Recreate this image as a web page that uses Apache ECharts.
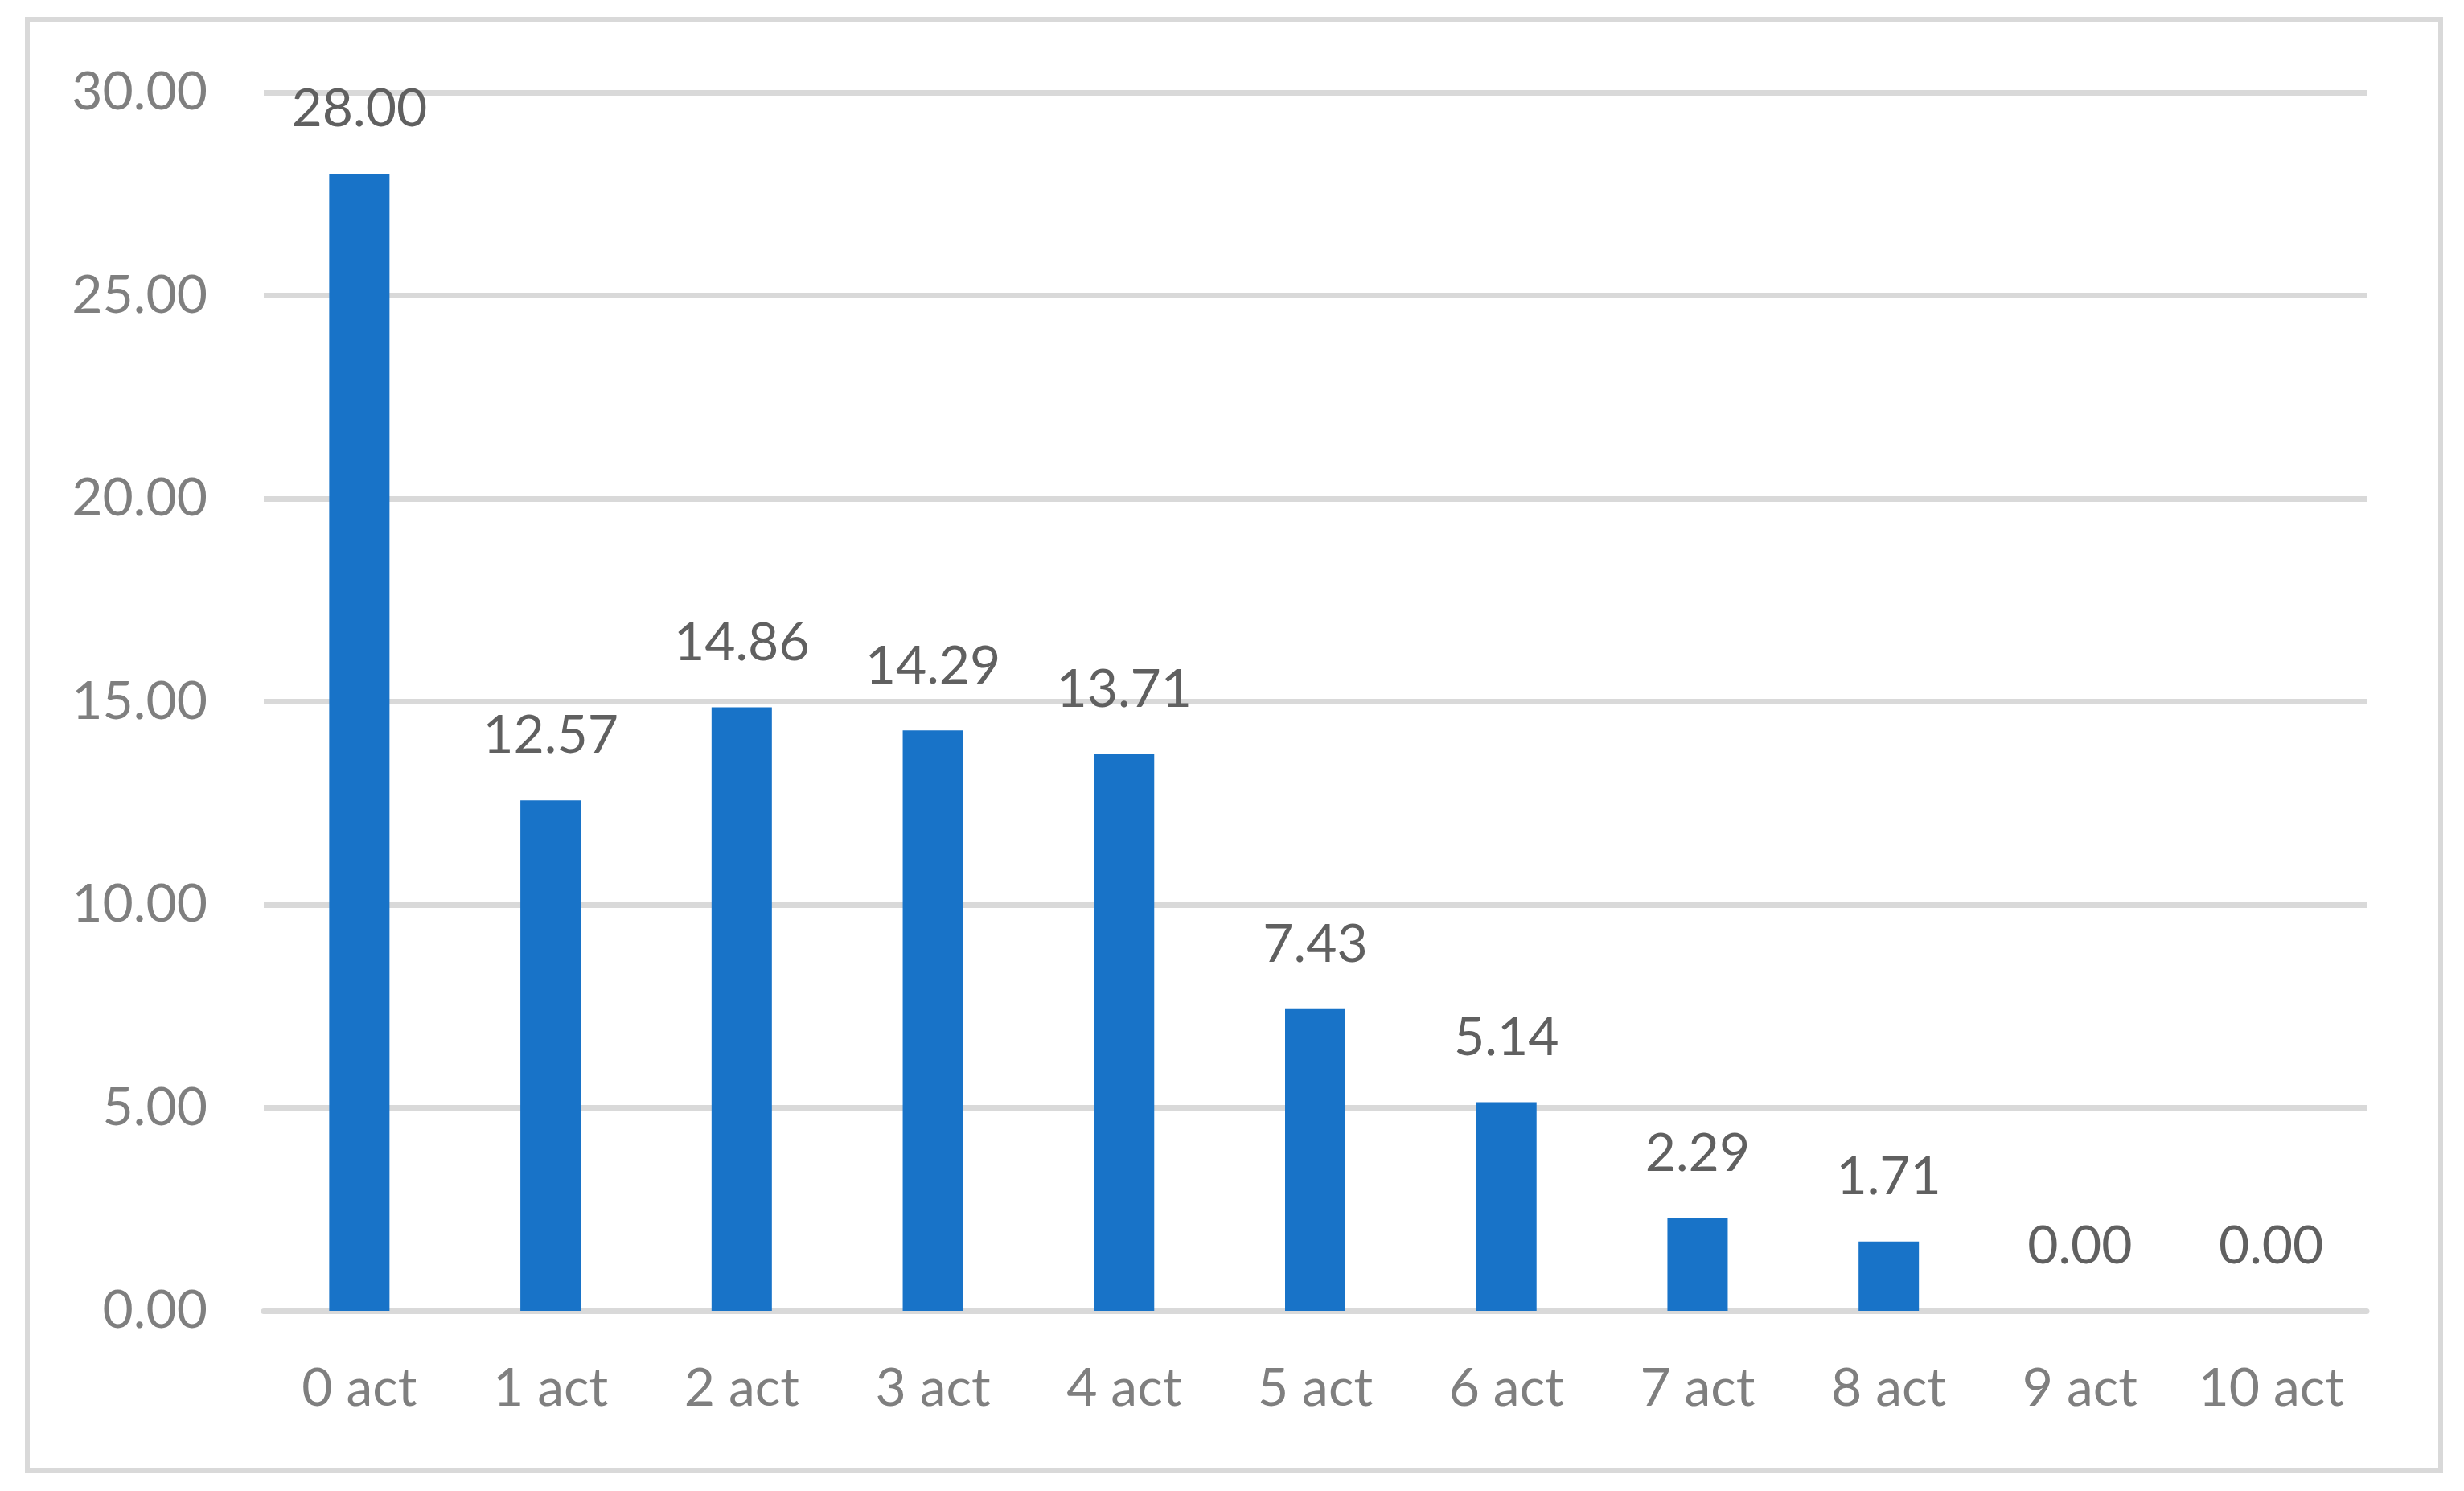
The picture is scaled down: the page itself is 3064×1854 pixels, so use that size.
<!DOCTYPE html>
<html>
<head>
<meta charset="utf-8">
<script src="https://cdn.jsdelivr.net/npm/echarts@6/dist/echarts.min.js"></script>
<style>
html,body{margin:0;padding:0;background:#fff;}
#c{width:3064px;height:1854px;}
</style>
</head>
<body>
<div id="c"></div>
<script>
const categories = ['0 act','1 act','2 act','3 act','4 act','5 act','6 act','7 act','8 act','9 act','10 act'];
const values = [28.00, 12.57, 14.86, 14.29, 13.71, 7.43, 5.14, 2.29, 1.71, 0.00, 0.00];
const yMin = 0, yMax = 30, yStep = 5;

const chart = echarts.init(document.getElementById('c'), null, {renderer:'canvas'});
const FONT = 'Lato, "Open Sans", sans-serif';
chart.setOption({
  backgroundColor: '#ffffff',
  animation: false,
  graphic: [{
    type: 'rect',
    shape: {x: 34, y: 24, width: 3001, height: 1805},
    style: {fill: 'none', stroke: '#d9d9d9', lineWidth: 6}
  }],
  grid: {left: 328, right: 121, top: 115, bottom: 224},
  xAxis: {
    type: 'category',
    data: categories,
    axisTick: {show: false},
    axisLine: {show: true, lineStyle: {color: '#d9d9d9', width: 7}},
    axisLabel: {color: '#7f7f7f', fontSize: 66, fontFamily: FONT, margin: 64}
  },
  yAxis: {
    type: 'value',
    min: yMin, max: yMax, interval: yStep,
    axisLine: {show: false},
    axisTick: {show: false},
    splitLine: {lineStyle: {color: '#d9d9d9', width: 7}},
    axisLabel: {color: '#7f7f7f', fontSize: 66, fontFamily: FONT, margin: 70,
      formatter: v => v.toFixed(2)}
  },
  series: [{
    type: 'bar',
    data: values,
    barWidth: 75,
    itemStyle: {color: '#1873c8'},
    label: {show: true, position: 'top', distance: 47, color: '#606060',
      fontSize: 66, fontFamily: FONT, formatter: p => p.value.toFixed(2)}
  }]
});
</script>
</body>
</html>
